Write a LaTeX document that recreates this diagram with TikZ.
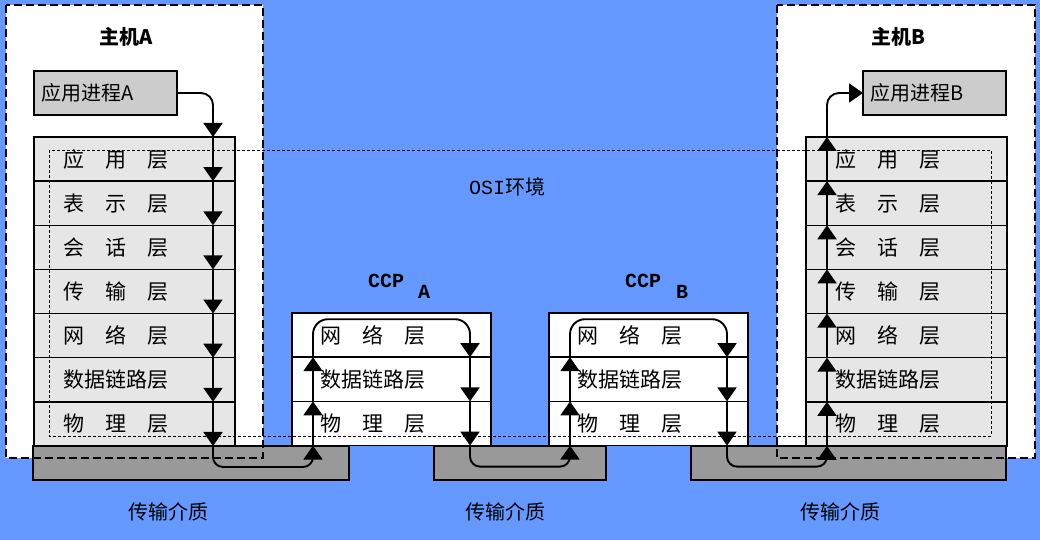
\documentclass[tikz,border=0pt]{standalone}
\usepackage{fontspec}
\setmainfont{Noto Sans CJK SC}
\newfontfamily\latmono{Liberation Mono}
\usetikzlibrary{arrows.meta}
\definecolor{bgblue}{RGB}{102,153,255}
\definecolor{rowgray}{RGB}{230,230,230}
\definecolor{appgray}{RGB}{204,204,204}
\definecolor{medgray}{RGB}{153,153,153}
\tikzset{
  stackrow/.style={draw, line width=1.5pt, fill=rowgray, outer sep=0pt,
    minimum width=201pt, minimum height=44.14pt, text width=143pt,
    inner xsep=29pt, inner ysep=0pt, align=left, anchor=north west,
    font=\fontsize{21}{24}\selectfont},
  ccprow/.style={stackrow, fill=white, minimum width=199pt, text width=143pt,
    inner xsep=28pt, minimum height=44.2pt},
  appbox/.style={draw, line width=1.5pt, fill=appgray, outer sep=0pt,
    minimum width=143pt, minimum height=44pt, text width=129pt,
    inner xsep=7pt, align=left, anchor=north west,
    font=\fontsize{20}{24}\selectfont},
  medium/.style={draw, line width=1.5pt, fill=medgray, outer sep=0pt,
    inner sep=0pt, anchor=north west, minimum height=34pt},
  hostarea/.style={fill=white, outer sep=0pt, inner sep=0pt, anchor=north west,
    minimum width=257pt, minimum height=453pt},
  hostedge/.style={line width=2pt, dash pattern=on 8pt off 4pt},
  osiline/.style={line width=0.9pt, dash pattern=on 3pt off 2pt},
  flow/.style={line width=1.9pt, -{Triangle[width=19pt,length=14pt]}},
  lbl/.style={font=\fontsize{20}{24}\selectfont},
  ccplbl/.style={font={\latmono\bfseries\fontsize{20}{24}\selectfont}}
}
\begin{document}
\begin{tikzpicture}[x=1pt,y=-1pt]
\fill[bgblue] (0,0) rectangle (1040,540);
\useasboundingbox (0,0) rectangle (1040,540);

% host areas
\node[hostarea] (hA) at (6,5) {};
\node[hostarea, minimum width=258pt] (hB) at (777,5) {};

% application process boxes
\node[appbox] (appA) at (34,71) {应用进程A};
\node[appbox] (appB) at (863,71) {应用进程B};

% stacks
\foreach \t [count=\i] in {应\quad 用\quad 层, 表\quad 示\quad 层, 会\quad 话\quad 层,
  传\quad 输\quad 层, 网\quad 络\quad 层, 数据链路层, 物\quad 理\quad 层} {
  \node[stackrow] (a\i) at (34,{137+44.14*(\i-1)}) {\t};
  \node[stackrow] (b\i) at (806,{137+44.14*(\i-1)}) {\t};
}
\foreach \t [count=\i] in {网\quad 络\quad 层, 数据链路层, 物\quad 理\quad 层} {
  \node[ccprow] (ca\i) at (292,{313+44.2*(\i-1)}) {\t};
  \node[ccprow] (cb\i) at (549,{313+44.2*(\i-1)}) {\t};
}

% transmission media
\node[medium, minimum width=316pt] (m1) at (33,446) {};
\node[medium, minimum width=172pt] (m2) at (434,446) {};
\node[medium, minimum width=315pt] (m3) at (691,446) {};

% host dashed borders
\draw[hostedge] (hA.north west) rectangle (hA.south east);
\draw[hostedge] (hB.north west) rectangle (hB.south east);

% OSI environment
\draw[osiline] (49,150) rectangle (991,436);

% labels
\node[lbl, font=\bfseries\fontsize{20}{24}\selectfont] (tA) at (126,37) {主机A};
\node[lbl, font=\bfseries\fontsize{20}{24}\selectfont] (tB) at (898,37) {主机B};
\node[lbl] (osi) at (507,187) {{\latmono OSI}环境};
\node[ccplbl] (ccpA) at (386,281) {CCP};
\node[ccplbl] (subA) at (424,292) {A};
\node[ccplbl] (ccpB) at (643,281) {CCP};
\node[ccplbl] (subB) at (682,292) {B};
\node[lbl] (tm1) at (168,512) {传输介质};
\node[lbl] (tm2) at (505,512) {传输介质};
\node[lbl] (tm3) at (840,512) {传输介质};

% flow coordinates
\foreach \i in {0,...,7} {
  \coordinate (fa\i) at (213,{137+44.14*\i});
  \coordinate (fb\i) at (827,{137+44.14*\i});
}
\foreach \i in {0,...,3} {
  \coordinate (cau\i) at (313,{313+44.2*\i});
  \coordinate (cad\i) at (470,{313+44.2*\i});
  \coordinate (cbu\i) at (570,{313+44.2*\i});
  \coordinate (cbd\i) at (727,{313+44.2*\i});
}

% host A downward
\draw[flow, rounded corners=12pt] (appA.east) -| (fa0);
\foreach \i [evaluate=\i as \j using int(\i+1)] in {0,...,6}
  \draw[flow] (fa\i) -- (fa\j);
\draw[flow, rounded corners=10pt] (fa7) -- ++(0,21) -| (cau3);

% CCP A
\draw[flow] (cau3) -- (cau2);
\draw[flow] (cau2) -- (cau1);
\draw[flow, rounded corners=15pt] (cau1) -- ++(0,-38) -| (cad1);
\draw[flow] (cad1) -- (cad2);
\draw[flow] (cad2) -- (cad3);
\draw[flow, rounded corners=10pt] (cad3) -- ++(0,21) -| (cbu3);

% CCP B
\draw[flow] (cbu3) -- (cbu2);
\draw[flow] (cbu2) -- (cbu1);
\draw[flow, rounded corners=15pt] (cbu1) -- ++(0,-38) -| (cbd1);
\draw[flow] (cbd1) -- (cbd2);
\draw[flow] (cbd2) -- (cbd3);
\draw[flow, rounded corners=10pt] (cbd3) -- ++(0,21) -| (fb7);

% host B upward
\foreach \i [evaluate=\i as \j using int(\i-1)] in {7,...,1}
  \draw[flow] (fb\i) -- (fb\j);
\draw[flow, rounded corners=12pt] (fb0) |- (appB.west);
\end{tikzpicture}
\end{document}
